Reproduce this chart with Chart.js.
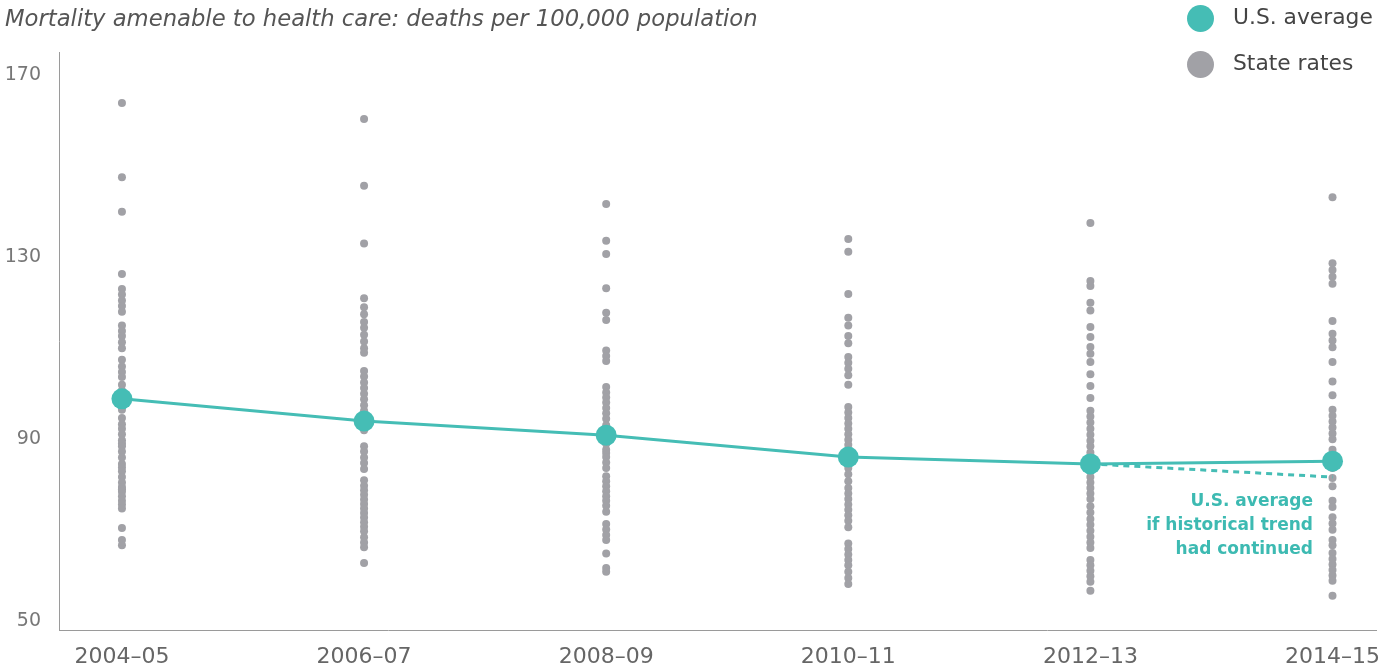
<!DOCTYPE html>
<html>
<head>
<meta charset="utf-8">
<script src="https://cdn.jsdelivr.net/npm/chart.js@4.4.0/dist/chart.umd.min.js"></script>
<style>
  html, body { margin: 0; padding: 0; background: #fff; }
  #wrap { position: relative; width: 1380px; height: 667px; font-family: "DejaVu Sans", sans-serif; }
  #title { position: absolute; left: 5px; top: 5px; font-size: 22.7px; font-style: italic; color: #555; }
  .leg { position: absolute; left: 1187px; font-size: 21.8px; color: #444; }
  .leg span { display: inline-block; width: 27px; height: 27px; border-radius: 50%; vertical-align: middle; margin-right: 19px; }
  #note { position: absolute; right: 67px; top: 488px; text-align: right; font-size: 17px; font-weight: bold; color: #3dbab2; line-height: 24px; }
</style>
</head>
<body>
<div id="wrap">
  <canvas id="chart" width="1380" height="667"></canvas>
  <div id="title">Mortality amenable to health care: deaths per 100,000 population</div>
  <div class="leg" style="top:4px"><span style="background:#45bdb5"></span>U.S. average</div>
  <div class="leg" style="top:50px"><span style="background:#a1a1a6"></span>State rates</div>
  <div id="note">U.S. average<br>if historical trend<br>had continued</div>
</div>
<script>
// periods on the x axis
const periods = ["2004–05", "2006–07", "2008–09", "2010–11", "2012–13", "2014–15"];
const yTicks = [50, 90, 130, 170];

// U.S. average per period
const usAverage = [98.4, 93.5, 90.4, 85.6, 84.1, 84.7];
// projection if the earlier trend had continued (2012–13 to 2014–15)
const trendValues = [84.1, 81.2];

// state rates, one list per period
const states0405 = [163.4, 147.1, 139.5, 125.8, 122.5, 121.3, 120.0, 118.8, 117.5, 114.5, 113.3, 112.2, 110.8, 109.5, 107.0, 105.5, 104.3, 103.2, 101.5, 100.2, 99.0, 97.3, 96.0, 94.2, 92.8, 91.8, 90.6, 89.3, 88.6, 88.0, 86.8, 85.5, 84.1, 83.3, 82.5, 81.2, 80.0, 79.0, 78.5, 78.0, 77.0, 76.0, 75.2, 74.3, 70.0, 67.4, 66.2];
const states0607 = [159.9, 145.2, 132.5, 120.5, 118.5, 117.0, 115.3, 114.0, 112.5, 111.0, 109.5, 108.5, 104.5, 103.3, 102.0, 100.8, 99.5, 98.3, 97.0, 95.8, 94.5, 92.5, 91.5, 88.0, 86.8, 85.5, 84.3, 83.0, 80.5, 79.3, 78.3, 77.3, 76.3, 75.3, 74.3, 73.3, 72.3, 71.3, 70.3, 69.3, 68.0, 66.8, 65.8, 62.3];
const states0809 = [141.2, 133.1, 130.2, 122.7, 117.3, 115.7, 109.0, 107.8, 106.7, 101.0, 99.8, 98.7, 97.6, 96.4, 95.2, 94.0, 92.6, 91.5, 90.2, 89.5, 88.5, 87.2, 86.5, 85.6, 84.4, 83.2, 81.4, 80.3, 79.2, 78.1, 77.0, 76.0, 74.9, 73.6, 70.9, 69.7, 68.5, 67.4, 64.4, 61.2, 60.4];
const states1011 = [133.5, 130.7, 121.4, 116.2, 114.5, 112.2, 110.6, 107.6, 106.3, 105.0, 103.6, 101.5, 96.6, 95.4, 94.2, 93.0, 91.8, 90.6, 89.4, 88.3, 86.5, 84.5, 83.2, 81.8, 80.3, 78.8, 77.6, 76.4, 75.2, 74.0, 72.8, 71.6, 70.2, 66.6, 65.4, 64.2, 63.0, 61.8, 60.4, 59.0, 57.7];
const states1213 = [137.0, 124.3, 123.2, 119.5, 117.8, 114.2, 112.0, 109.8, 108.3, 106.5, 103.8, 101.2, 98.6, 95.8, 94.5, 93.2, 91.8, 90.5, 89.2, 88.0, 86.6, 82.5, 81.2, 80.0, 78.8, 77.6, 76.4, 74.8, 73.4, 72.0, 70.7, 69.4, 68.1, 66.8, 65.6, 63.0, 61.8, 60.6, 59.4, 58.2, 56.2];
const states1415 = [142.7, 128.2, 126.7, 125.2, 123.7, 115.5, 112.7, 111.2, 109.7, 106.5, 102.2, 99.2, 96.0, 94.7, 93.4, 92.1, 90.8, 89.5, 87.2, 83.2, 81.0, 79.2, 76.0, 74.6, 72.4, 71.0, 69.6, 67.4, 66.2, 64.5, 63.2, 62.0, 60.8, 59.6, 58.4, 55.1];

const stateLists = [states0405, states0607, states0809, states1011, states1213, states1415];

const teal = "#45bdb5";
const grey = "#a1a1a6";

const statePoints = [];
stateLists.forEach((list, i) => {
  list.forEach(v => statePoints.push({ x: i, y: v }));
});

new Chart(document.getElementById("chart").getContext("2d"), {
  type: "scatter",
  data: {
    datasets: [
      {
        label: "U.S. average",
        type: "line",
        data: usAverage.map((v, i) => ({ x: i, y: v })),
        borderColor: teal,
        backgroundColor: teal,
        borderWidth: 3,
        pointRadius: 10.5,
        pointHoverRadius: 10.5,
        pointBorderWidth: 0,
        order: 0
      },
      {
        label: "Trend",
        type: "line",
        data: trendValues.map((v, i) => ({ x: 4 + i, y: v })),
        borderColor: teal,
        borderWidth: 3,
        borderDash: [6, 5],
        pointRadius: 0,
        order: 1
      },
      {
        label: "State rates",
        data: statePoints,
        backgroundColor: grey,
        borderWidth: 0,
        pointRadius: 4,
        pointHoverRadius: 4,
        order: 2
      }
    ]
  },
  options: {
    responsive: false,
    animation: false,
    // no automatic padding for the big end dots, the axis runs to the right edge
    layout: { autoPadding: false, padding: { top: 52, right: 0, left: 0, bottom: 0 } },
    plugins: { legend: { display: false }, tooltip: { enabled: false } },
    scales: {
      x: {
        type: "linear",
        min: -0.26,
        max: 5.183,
        afterBuildTicks: (axis) => { axis.ticks = periods.map((p, i) => ({ value: i })); },
        afterFit: (axis) => { axis.height = 37; },
        // invisible tick marks give the gap under the axis
        grid: { drawOnChartArea: false, drawTicks: true, tickLength: 14, tickColor: "rgba(0,0,0,0)" },
        border: { color: "#9a9a9a", width: 1 },
        ticks: {
          padding: 0,
          color: "#666",
          maxRotation: 0,
          autoSkip: false,
          font: { family: "DejaVu Sans", size: 22 },
          callback: (v) => periods[v]
        }
      },
      y: {
        min: 47.6,
        max: 174.6,
        afterBuildTicks: (axis) => { axis.ticks = yTicks.map(v => ({ value: v })); },
        afterFit: (axis) => { axis.width = 59; },
        grid: { drawOnChartArea: false, drawTicks: false },
        border: { color: "#9a9a9a", width: 1 },
        ticks: {
          padding: 18,
          labelOffset: 2,
          color: "#777",
          font: { family: "DejaVu Sans", size: 19 }
        }
      }
    }
  }
});
</script>
</body>
</html>
